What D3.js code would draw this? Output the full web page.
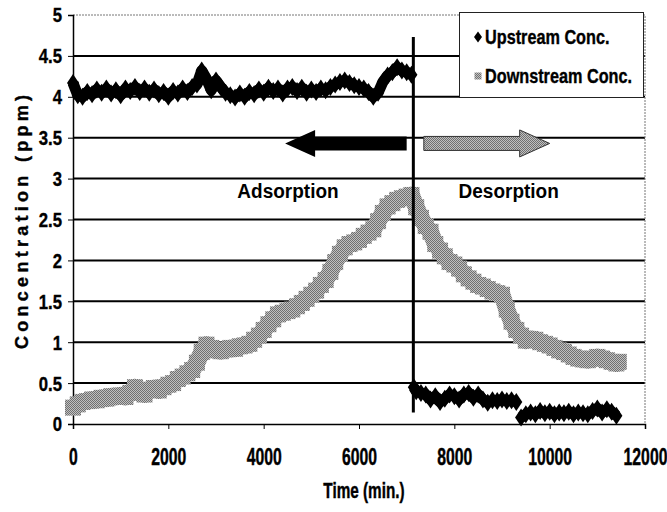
<!DOCTYPE html>
<html>
<head>
<meta charset="utf-8">
<script src="https://cdn.jsdelivr.net/npm/d3@7"></script>
<style>
  body { margin: 0; background: #fff; }
  svg { display: block; }
  .heavy { stroke: #000; stroke-width: 0.35px; }
</style>
</head>
<body>
<div id="chart"></div>
<script>
// time (min.) and concentration (ppm)
var xTicks = [0, 2000, 4000, 6000, 8000, 10000, 12000];
var yTicks = [0, 0.5, 1, 1.5, 2, 2.5, 3, 3.5, 4, 4.5, 5];

// upstream: three pieces (adsorption, desorption, after 9300 min)
var upTime1 = [0,100,200,300,400,500,600,700,800,900,1000,1100,1200,1300,1400,1500,1600,1700,1800,1900,
  2000,2100,2200,2300,2400,2500,2600,2700,2800,2900,3000,3100,3200,3300,3400,3500,3600,3700,3800,3900,
  4000,4100,4200,4300,4400,4500,4600,4700,4800,4900,5000,5100,5200,5300,5400,5500,5600,5700,5800,5900,
  6000,6100,6200,6300,6400,6500,6600,6700,6800,6900,7000,7100];
var upConc1 = [4.17,4.02,4.00,4.06,4.03,4.09,4.05,4.10,4.04,4.08,4.02,4.10,4.07,4.12,4.06,4.10,4.05,4.09,4.03,4.06,
  4.00,4.07,4.04,4.10,4.06,4.12,4.15,4.32,4.22,4.08,4.20,4.12,4.05,4.02,3.99,4.04,4.00,4.06,4.03,4.09,
  4.05,4.11,4.07,4.10,4.04,4.10,4.12,4.07,4.11,4.05,4.09,4.06,4.10,4.08,4.12,4.15,4.18,4.20,4.17,4.14,
  4.12,4.10,4.06,4.00,4.05,4.18,4.26,4.30,4.36,4.32,4.30,4.27];
var upTime2 = [7150,7200,7300,7400,7500,7600,7700,7800,7900,8000,8100,8200,8300,8400,8500,8600,8700,8800,8900,9000,9100,9200,9300];
var upConc2 = [0.45,0.40,0.38,0.36,0.30,0.34,0.27,0.31,0.36,0.34,0.30,0.36,0.38,0.32,0.36,0.30,0.26,0.29,0.28,0.30,0.28,0.29,0.27];
var upTime3 = [9400,9500,9600,9700,9800,9900,10000,10100,10200,10300,10400,10500,10600,10700,10800,10900,11000,11100,11200,11300,11400];
var upConc3 = [0.08,0.12,0.14,0.12,0.16,0.13,0.15,0.12,0.14,0.13,0.15,0.12,0.14,0.13,0.12,0.16,0.19,0.14,0.18,0.15,0.10];

var downTime = [0,100,200,300,400,500,600,700,800,900,1000,1100,1200,1300,1400,1500,1600,1700,1800,1900,
  2000,2100,2200,2300,2400,2500,2600,2700,2800,2900,3000,3100,3200,3300,3400,3500,3600,3700,3800,3900,
  4000,4100,4200,4300,4400,4500,4600,4700,4800,4900,5000,5100,5200,5300,5400,5500,5600,5700,5800,5900,
  6000,6100,6200,6300,6400,6500,6600,6700,6800,6900,7000,7100,7200,7300,7400,7500,7600,7700,7800,7900,
  8000,8100,8200,8300,8400,8500,8600,8700,8800,8900,9000,9100,9200,9300,9400,9500,9600,9700,9800,9900,
  10000,10100,10200,10300,10400,10500,10600,10700,10800,10900,11000,11100,11200,11300,11400,11450];
var downConc = [0.20,0.24,0.27,0.28,0.30,0.29,0.32,0.31,0.34,0.33,0.35,0.33,0.38,0.45,0.40,0.36,0.42,0.44,0.41,0.45,
  0.48,0.50,0.55,0.58,0.62,0.66,0.75,0.88,0.97,0.93,0.90,0.89,0.91,0.93,0.92,0.95,0.96,0.98,1.03,1.08,
  1.15,1.22,1.28,1.34,1.36,1.38,1.40,1.44,1.48,1.53,1.58,1.63,1.70,1.76,1.86,1.98,2.08,2.16,2.20,2.22,
  2.25,2.30,2.34,2.38,2.48,2.58,2.66,2.70,2.74,2.76,2.78,2.80,2.65,2.52,2.42,2.35,2.20,2.12,2.05,1.98,
  1.95,1.90,1.83,1.78,1.74,1.70,1.68,1.65,1.62,1.60,1.58,1.40,1.25,1.15,1.08,1.02,1.04,1.03,1.00,0.98,
  0.96,0.93,0.90,0.88,0.85,0.82,0.80,0.79,0.78,0.80,0.82,0.80,0.78,0.76,0.74,0.76];

var seriesNames = ["Upstream Conc.", "Downstream Conc."];
var switchTime = 7140;

function zip(t, v){ return t.map(function(d, i){ return {t: d, v: v[i]}; }); }
var upPieces = [zip(upTime1, upConc1), zip(upTime2, upConc2), zip(upTime3, upConc3)];
var downData = zip(downTime, downConc);

var W = 667, H = 512;

var svg = d3.select("#chart").append("svg")
    .attr("width", W)
    .attr("height", H)
    .style("font-family", "'Liberation Sans',Arial,sans-serif")
    .style("font-weight", "bold");

// dithered grey like the scanned figure
var pat = svg.append("defs").append("pattern")
    .attr("id", "dither")
    .attr("patternUnits", "userSpaceOnUse")
    .attr("width", 2).attr("height", 2);
pat.append("rect").attr("width", 2).attr("height", 2).attr("fill", "#c0c0c0");
pat.append("rect").attr("width", 1).attr("height", 1).attr("fill", "#707070");
pat.append("rect").attr("x", 1).attr("y", 1).attr("width", 1).attr("height", 1).attr("fill", "#707070");

var x = d3.scaleLinear().domain([0, 12000]).range([73, 645]);
var y = d3.scaleLinear().domain([0, 5]).range([424, 15]);

// grid
svg.append("g").selectAll("line")
    .data(yTicks.filter(function(d){ return d > 0 && d < 5; }))
    .enter().append("line")
    .attr("x1", x(0)).attr("x2", x(12000))
    .attr("y1", function(d){ return y(d); })
    .attr("y2", function(d){ return y(d); })
    .attr("stroke", "#000")
    .attr("stroke-width", 2);

// top / right frame, thin dotted
svg.append("path")
    .attr("d", "M" + x(0) + "," + y(5) + "H" + x(12000) + "V" + y(0))
    .attr("fill", "none")
    .attr("stroke", "#777")
    .attr("stroke-width", 1)
    .attr("stroke-dasharray", "2,1");

// axes (the figure uses a condensed bold face, so squeeze the text)
var yAxis = d3.axisLeft(y).tickValues(yTicks).tickSize(5).tickFormat(String);
var gy = svg.append("g").attr("transform", "translate(" + x(0) + ",0)").call(yAxis);
gy.attr("font-family", null).attr("font-size", null);
gy.select(".domain").attr("stroke-width", 1.5);
gy.selectAll("text")
    .attr("class", "heavy")
    .style("font-size", "19px")
    .attr("x", 0).attr("dy", "0.36em")
    .attr("transform", "translate(-11,0) scale(0.88,1.02)");

var xAxis = d3.axisBottom(x).tickValues(xTicks).tickSize(5).tickFormat(String);
var gx = svg.append("g").attr("transform", "translate(0," + y(0) + ")").call(xAxis);
gx.attr("font-family", null).attr("font-size", null);
gx.select(".domain").attr("stroke-width", 1.5);
gx.selectAll("text")
    .attr("class", "heavy")
    .style("font-size", "19px")
    .attr("y", 0).attr("dy", null)
    .attr("transform", "translate(0,41) scale(0.83,1.25)");

// series
var line = d3.line()
    .x(function(d){ return x(d.t); })
    .y(function(d){ return y(d.v); });

svg.append("path")
    .datum(downData)
    .attr("d", line)
    .attr("fill", "none")
    .attr("stroke", "url(#dither)")
    .attr("stroke-width", 17)
    .attr("stroke-linejoin", "round");
svg.append("g").selectAll("rect")
    .data(downData)
    .enter().append("rect")
    .attr("x", function(d){ return x(d.t) - 8; })
    .attr("y", function(d){ return y(d.v) - 8; })
    .attr("width", 16).attr("height", 16)
    .attr("fill", "url(#dither)");

function diamond(cx, cy, w, h){
  return "M" + cx + "," + (cy - h) + "L" + (cx + w) + "," + cy + "L" + cx + "," + (cy + h) + "L" + (cx - w) + "," + cy + "Z";
}

upPieces.forEach(function(piece){
  svg.append("path")
      .datum(piece)
      .attr("d", line)
      .attr("fill", "none")
      .attr("stroke", "#000")
      .attr("stroke-width", 11)
      .attr("stroke-linejoin", "round");
  svg.append("g").selectAll("path")
      .data(piece)
      .enter().append("path")
      .attr("d", function(d){ return diamond(x(d.t), y(d.v), 6, 9); })
      .attr("fill", "#000");
});

// switch line between adsorption and desorption
svg.append("line")
    .attr("x1", x(switchTime)).attr("x2", x(switchTime))
    .attr("y1", y(4.73)).attr("y2", y(0.14))
    .attr("stroke", "#000")
    .attr("stroke-width", 3);

// arrows
function arrow(t0, t1, v){
  var x0 = x(t0), x1 = x(t1), yc = y(v), dir = x1 > x0 ? 1 : -1;
  var hx = x1 - dir * 30;
  return "M" + x0 + "," + (yc - 7) + "L" + hx + "," + (yc - 7) + "L" + hx + "," + (yc - 13.5) +
    "L" + x1 + "," + yc + "L" + hx + "," + (yc + 13.5) + "L" + hx + "," + (yc + 7) +
    "L" + x0 + "," + (yc + 7) + "Z";
}
svg.append("path").attr("d", arrow(7000, 4450, 3.43)).attr("fill", "#000");
svg.append("path").attr("d", arrow(7360, 10000, 3.43))
    .attr("fill", "url(#dither)")
    .attr("stroke", "#333")
    .attr("stroke-width", 1);

svg.append("text")
    .attr("transform", "translate(" + x(4510) + "," + y(2.76) + ") scale(1,1.1)")
    .attr("text-anchor", "middle")
    .style("font-size", "19px")
    .text("Adsorption");
svg.append("text")
    .attr("transform", "translate(" + x(9140) + "," + y(2.76) + ") scale(1,1.1)")
    .attr("text-anchor", "middle")
    .style("font-size", "19px")
    .text("Desorption");

// axis titles
svg.append("text")
    .attr("class", "heavy")
    .attr("transform", "translate(" + ((73 + 645) / 2 + 5) + ",498) scale(0.85,1.2)")
    .attr("text-anchor", "middle")
    .style("font-size", "18px")
    .text("Time (min.)");

svg.append("text")
    .attr("class", "heavy")
    .attr("transform", "translate(28,222) rotate(-90)")
    .attr("text-anchor", "middle")
    .attr("textLength", 254)
    .attr("lengthAdjust", "spacing")
    .style("font-size", "18px")
    .text("Concentration (ppm)");

// legend
var lg = svg.append("g");
lg.append("rect")
    .attr("x", 459.5).attr("y", 12.5)
    .attr("width", 184).attr("height", 85)
    .attr("fill", "#fff")
    .attr("stroke", "#222")
    .attr("stroke-width", 1);
lg.append("path").attr("d", diamond(478, 37, 4, 5.5)).attr("fill", "#000");
lg.append("rect").attr("x", 474.5).attr("y", 72.5).attr("width", 7).attr("height", 7).attr("fill", "url(#dither)");
lg.selectAll("text.lab")
    .data(seriesNames)
    .enter().append("text")
    .attr("class", "lab heavy")
    .attr("transform", function(d, i){ return "translate(485," + (44 + i * 39) + ") scale(0.855,1.1)"; })
    .style("font-size", "19px")
    .text(function(d){ return d; });
</script>
</body>
</html>
